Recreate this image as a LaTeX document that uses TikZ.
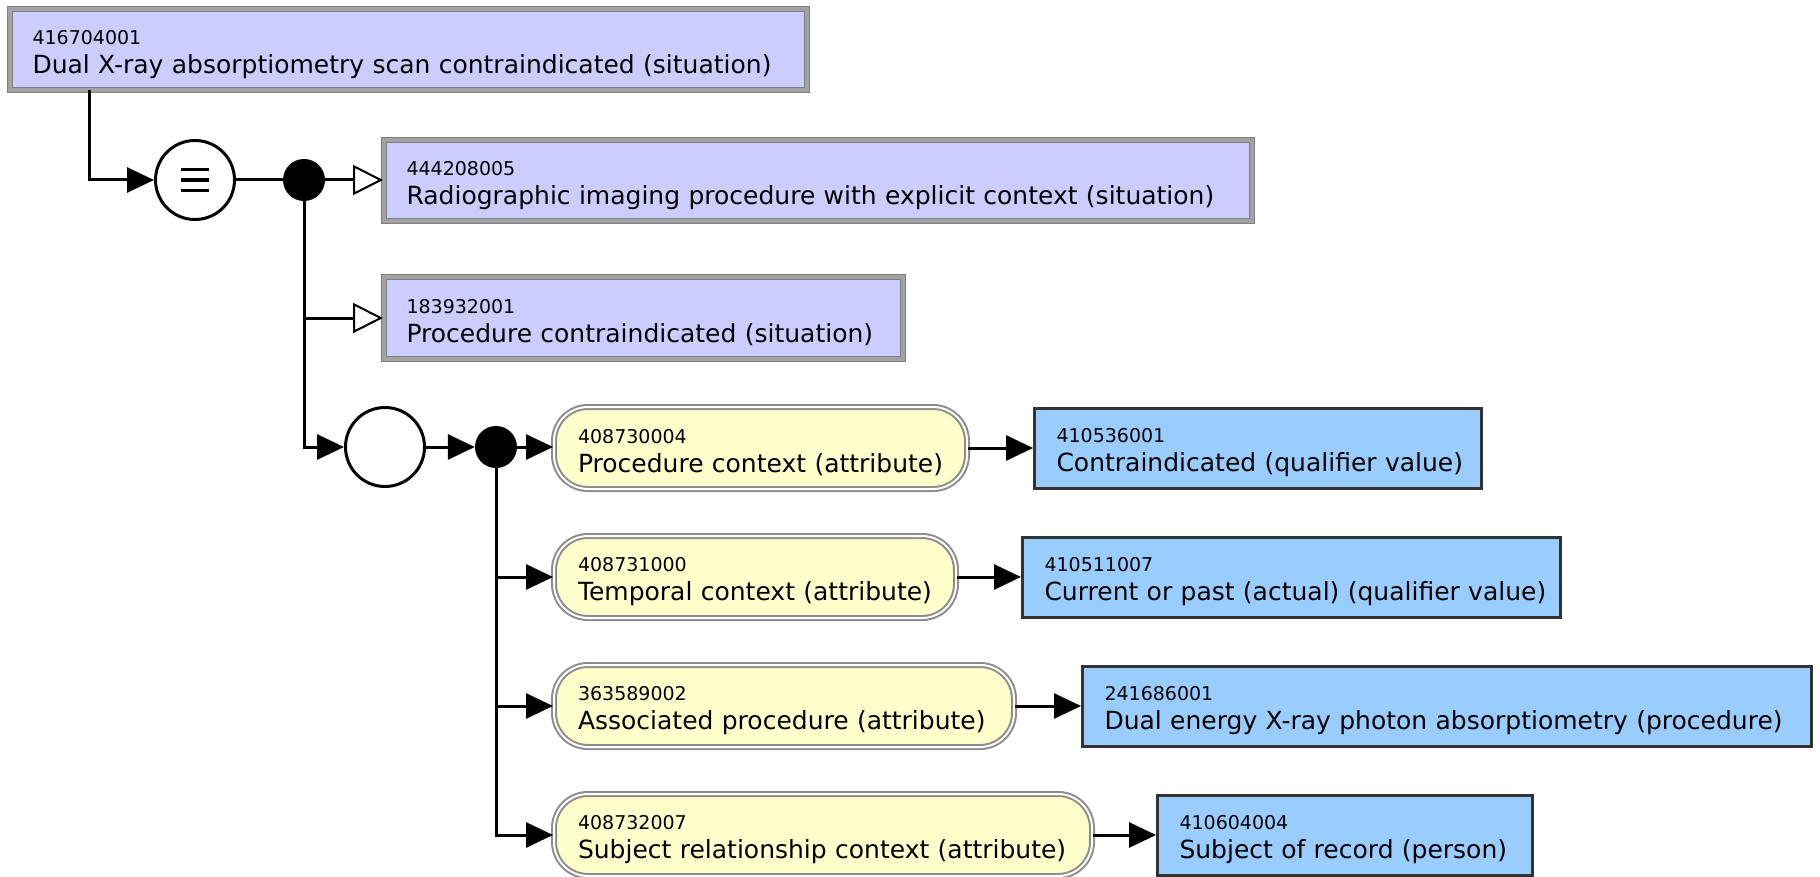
\documentclass[tikz,border=0pt]{standalone}
\usepackage{fontspec}
\setmainfont{DejaVu Sans}
\usetikzlibrary{arrows.meta,calc}

\definecolor{lavfill}{HTML}{CCCCFF}
\definecolor{lavedge}{HTML}{A2A2A2}
\definecolor{lavrim}{HTML}{7E7E7E}
\definecolor{attrfill}{HTML}{FFFFCC}
\definecolor{attredge}{HTML}{8C8C8C}
\definecolor{valfill}{HTML}{99CCFF}
\definecolor{valedge}{HTML}{333333}

\newcommand\idfont{\fontsize{19}{22}\selectfont}
\newcommand\namefont{\fontsize{25}{29}\selectfont}
% concept label: identifier above, description below
\newcommand\cpt[2]{{\idfont\rule{0pt}{24pt}#1}\\\mbox{#2}}

\tikzset{
  conceptbox/.style={rectangle, fill=lavfill, draw=lavrim, line width=1pt,
    double=lavedge, double distance=4pt,
    inner xsep=23pt, inner ysep=0pt, minimum height=81pt, align=left, font=\namefont},
  attrbox/.style={rectangle, rounded corners=34pt, fill=attrfill, draw=attredge,
    double=white, double distance=2pt, line width=2pt,
    inner xsep=24pt, inner ysep=0pt, minimum height=82pt, align=left, font=\namefont},
  valbox/.style={rectangle, fill=valfill, draw=valedge, line width=3pt,
    inner xsep=22pt, inner ysep=0pt, minimum height=80pt, align=left, font=\namefont},
  joindot/.style={circle, fill=black, inner sep=0pt, minimum size=42pt},
  opcircle/.style={circle, draw=black, fill=white, line width=3pt, inner sep=0pt, minimum size=79pt},
  conn/.style={line width=3pt},
  fa/.style={-{Triangle[length=27pt,width=25pt]}},
  oa/.style={-{Triangle[open,length=30pt,width=30pt,line width=2pt,fill=white]}},
}

\begin{document}
\begin{tikzpicture}[x=1pt,y=-1pt]
\useasboundingbox (0,0) rectangle (1820,877);

% defined concepts
\node[conceptbox, text width=751pt] (b1) at (408,49.5)
  {\cpt{416704001}{Dual X-ray absorptiometry scan contraindicated (situation)}};
\node[conceptbox, text width=822pt] (b2) at (817.5,181)
  {\cpt{444208005}{Radiographic imaging procedure with explicit context (situation)}};
\node[conceptbox, text width=473pt] (b3) at (643,318)
  {\cpt{183932001}{Procedure contraindicated (situation)}};

% definition operators
\node[opcircle, path picture={
    \foreach \dy in {-10.5pt,0pt,10.5pt}
      \draw[line width=3.5pt] ([shift={(-14pt,\dy)}]path picture bounding box.center) -- ++(28pt,0pt);
  }] (eq) at (195,180) {};
\node[joindot] (dot1) at (304,180) {};
\node[opcircle] (conj) at (385,447) {};
\node[joindot] (dot2) at (496,447) {};

% attributes
\node[attrbox, text width=365pt] (a1) at (760.5,448) {\cpt{408730004}{Procedure context (attribute)}};
\node[attrbox, text width=354pt] (a2) at (755,577) {\cpt{408731000}{Temporal context (attribute)}};
\node[attrbox, text width=412pt] (a3) at (784,706) {\cpt{363589002}{Associated procedure (attribute)}};
\node[attrbox, text width=490pt] (a4) at (823,835) {\cpt{408732007}{Subject relationship context (attribute)}};

% values
\node[valbox, text width=403pt] (v1) at (1258,448) {\cpt{410536001}{Contraindicated (qualifier value)}};
\node[valbox, text width=494pt] (v2) at (1291.5,577) {\cpt{410511007}{Current or past (actual) (qualifier value)}};
\node[valbox, text width=685pt] (v3) at (1447,706) {\cpt{241686001}{Dual energy X-ray photon absorptiometry (procedure)}};
\node[valbox, text width=331pt] (v4) at (1345,835) {\cpt{410604004}{Subject of record (person)}};

% connectors
\coordinate (b1foot) at ($(b1.south west)+(80,0)$);
\draw[conn,fa] (b1foot) |- (eq.west);
\draw[conn] (eq.east) -- (dot1.west);
\draw[conn,oa] (dot1.east) -- (dot1.east -| b2.west);
\draw[conn,oa] (dot1.south) |- (b3.west);
\draw[conn,fa] (dot1.south) |- (conj.west);
\draw[conn,fa] (conj.east) -- (dot2.west);
\draw[conn,fa] (dot2.east) -- (dot2.east -| a1.west);
\draw[conn,fa] (dot2.south) |- (a2.west);
\draw[conn,fa] (dot2.south) |- (a3.west);
\draw[conn,fa] (dot2.south) |- (a4.west);
\draw[conn,fa] (a1.east) -- (v1.west);
\draw[conn,fa] (a2.east) -- (v2.west);
\draw[conn,fa] (a3.east) -- (v3.west);
\draw[conn,fa] (a4.east) -- (v4.west);
\end{tikzpicture}
\end{document}
